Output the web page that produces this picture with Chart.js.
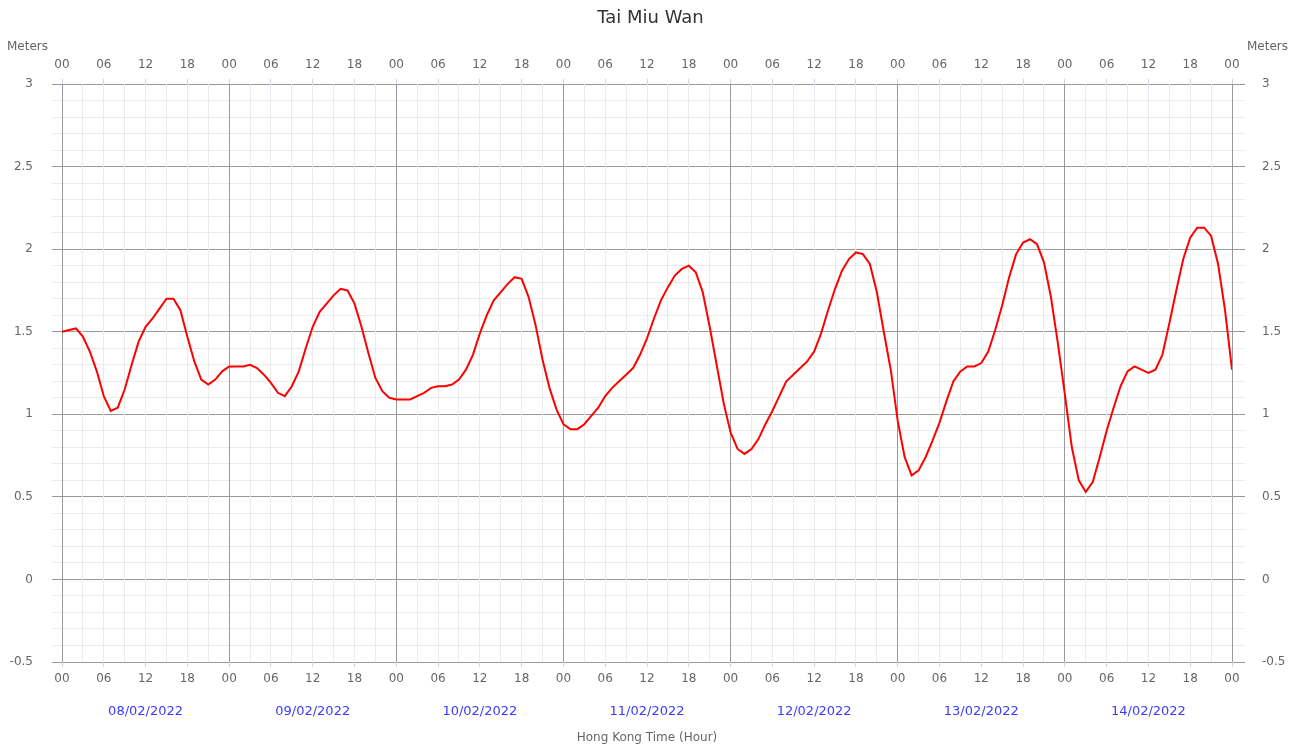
<!DOCTYPE html>
<html>
<head>
<meta charset="utf-8">
<title>Tai Miu Wan</title>
<script src="https://cdn.jsdelivr.net/npm/chart.js@4.4.1/dist/chart.umd.min.js"></script>
<style>
  html, body { margin: 0; padding: 0; background: #fff; }
  canvas { display: block; }
</style>
</head>
<body>
<canvas id="tideChart" width="1301" height="747"></canvas>
<script>
// 潮位（米），每小時一點，由 08/02/2022 00 時至 15/02/2022 00 時
const stationName = 'Tai Miu Wan';
const unitText = 'Meters';
const axisTitle = 'Hong Kong Time (Hour)';
const dates = ['08/02/2022', '09/02/2022', '10/02/2022', '11/02/2022', '12/02/2022', '13/02/2022', '14/02/2022'];
const hourLabels = ['00', '06', '12', '18'];

const tideLevels = [
  1.50, 1.51, 1.52, 1.47, 1.38, 1.26, 1.11, 1.02, 1.04, 1.15, 1.30, 1.44, 1.53, 1.58, 1.64, 1.70, 1.70, 1.63, 1.47, 1.32, 1.21, 1.18, 1.21, 1.26,
  1.29, 1.29, 1.29, 1.30, 1.28, 1.24, 1.19, 1.13, 1.11, 1.17, 1.26, 1.40, 1.53, 1.62, 1.67, 1.72, 1.76, 1.75, 1.67, 1.53, 1.37, 1.22, 1.14, 1.10,
  1.09, 1.09, 1.09, 1.11, 1.13, 1.16, 1.17, 1.17, 1.18, 1.21, 1.27, 1.36, 1.49, 1.60, 1.69, 1.74, 1.79, 1.83, 1.82, 1.71, 1.54, 1.33, 1.16, 1.03,
  0.94, 0.91, 0.91, 0.94, 0.99, 1.04, 1.11, 1.16, 1.20, 1.24, 1.28, 1.36, 1.46, 1.58, 1.69, 1.77, 1.84, 1.88, 1.90, 1.86, 1.74, 1.53, 1.30, 1.07,
  0.89, 0.79, 0.76, 0.79, 0.85, 0.94, 1.02, 1.11, 1.20, 1.24, 1.28, 1.32, 1.38, 1.49, 1.63, 1.76, 1.87, 1.94, 1.98, 1.97, 1.91, 1.74, 1.50, 1.27,
  0.96, 0.74, 0.63, 0.66, 0.74, 0.84, 0.95, 1.08, 1.20, 1.26, 1.29, 1.29, 1.31, 1.38, 1.51, 1.66, 1.83, 1.97, 2.04, 2.06, 2.03, 1.92, 1.71, 1.43,
  1.12, 0.80, 0.60, 0.53, 0.59, 0.74, 0.90, 1.04, 1.17, 1.26, 1.29, 1.27, 1.25, 1.27, 1.36, 1.55, 1.75, 1.94, 2.07, 2.13, 2.13, 2.08, 1.91, 1.63,
  1.27
];

const Y_MIN = -0.5;
const Y_MAX = 3;
const HOURS = dates.length * 24;

// 顏色
const FONT = "'DejaVu Sans', Verdana, sans-serif";
const GRID_MAJOR = '#999999';
const GRID_MINOR = '#ebebeb';
const TICK_MARK = '#ccd6eb';
const LABEL_COLOR = '#666666';
const DATE_COLOR = '#3b3bff';

function hourLabel(v) {
  if (v % 6 !== 0) return '';
  return hourLabels[(v % 24) / 6];
}

function isHalfStep(v) {
  return Math.abs(v * 2 - Math.round(v * 2)) < 1e-6;
}

function meterLabel(v) {
  if (!isHalfStep(v)) return '';
  return String(Math.round(v * 10) / 10);
}

// 左右兩邊的「Meters」字樣
const unitLabels = {
  id: 'unitLabels',
  afterDraw(chart) {
    const { ctx, chartArea } = chart;
    ctx.save();
    ctx.font = '12px ' + FONT;
    ctx.fillStyle = LABEL_COLOR;
    ctx.textBaseline = 'middle';
    ctx.textAlign = 'left';
    ctx.fillText(unitText, chartArea.left - 55, chartArea.top - 37);
    ctx.textAlign = 'right';
    ctx.fillText(unitText, chartArea.right + 56, chartArea.top - 37);
    ctx.restore();
  }
};

const ctx = document.getElementById('tideChart').getContext('2d');
const tideChart = new Chart(ctx, {
  type: 'line',
  data: {
    datasets: [{
      label: stationName,
      data: tideLevels.map((v, i) => ({ x: i, y: v })),
      borderColor: '#ff0000',
      borderWidth: 2,
      pointRadius: 0,
      tension: 0,
      fill: false
    }]
  },
  options: {
    responsive: false,
    animation: false,
    layout: { padding: 0 },
    plugins: {
      legend: { display: false },
      tooltip: { enabled: false },
      title: {
        display: true,
        text: stationName,
        color: '#333333',
        font: { family: FONT, size: 18, weight: 'normal' },
        padding: { top: 8, bottom: 0 }
      }
    },
    scales: {
      y: {
        type: 'linear',
        position: 'left',
        min: Y_MIN,
        max: Y_MAX,
        ticks: {
          stepSize: 0.1,
          autoSkip: false,
          padding: 19,
          color: LABEL_COLOR,
          font: { family: FONT, size: 12 },
          callback: meterLabel
        },
        grid: {
          color: c => isHalfStep(c.tick.value) ? GRID_MAJOR : GRID_MINOR,
          tickLength: 10
        },
        border: { display: false },
        afterFit: s => { s.width = 62; }
      },
      yRight: {
        type: 'linear',
        position: 'right',
        min: Y_MIN,
        max: Y_MAX,
        ticks: {
          stepSize: 0.1,
          autoSkip: false,
          padding: 17,
          color: LABEL_COLOR,
          font: { family: FONT, size: 12 },
          callback: meterLabel
        },
        grid: {
          drawOnChartArea: false,
          color: c => isHalfStep(c.tick.value) ? GRID_MAJOR : GRID_MINOR,
          tickLength: 13
        },
        border: { display: false },
        afterFit: s => { s.width = 69; }
      },
      x: {
        type: 'linear',
        position: 'bottom',
        min: 0,
        max: HOURS,
        ticks: {
          stepSize: 3,
          autoSkip: false,
          maxRotation: 0,
          padding: 5,
          color: LABEL_COLOR,
          font: { family: FONT, size: 12 },
          callback: hourLabel
        },
        grid: {
          color: c => c.tick.value % 24 === 0 ? GRID_MAJOR : GRID_MINOR,
          tickLength: 5,
          tickColor: c => c.tick.value % 6 === 0 ? TICK_MARK : 'rgba(0,0,0,0)'
        },
        border: { display: false },
        afterFit: s => { s.height = 24; }
      },
      xTop: {
        type: 'linear',
        position: 'top',
        min: 0,
        max: HOURS,
        ticks: {
          stepSize: 6,
          autoSkip: false,
          maxRotation: 0,
          padding: 7,
          color: LABEL_COLOR,
          font: { family: FONT, size: 12 },
          callback: hourLabel
        },
        grid: {
          drawOnChartArea: false,
          tickLength: 5,
          tickColor: TICK_MARK
        },
        border: { display: false },
        afterFit: s => { s.height = 54.4; }
      },
      xDate: {
        type: 'linear',
        position: 'bottom',
        min: 0,
        max: HOURS,
        afterBuildTicks: s => {
          s.ticks = dates.map((d, i) => ({ value: i * 24 + 12 }));
        },
        ticks: {
          autoSkip: false,
          maxRotation: 0,
          padding: 18,
          color: DATE_COLOR,
          font: { family: FONT, size: 13 },
          callback: v => dates[(v - 12) / 24]
        },
        grid: { display: false, drawTicks: false, drawOnChartArea: false },
        border: { display: false },
        title: {
          display: true,
          text: axisTitle,
          color: LABEL_COLOR,
          font: { family: FONT, size: 12 },
          padding: { top: 0, bottom: 2 }
        },
        afterFit: s => { s.height = 61; }
      }
    }
  },
  plugins: [unitLabels]
});
</script>
</body>
</html>
